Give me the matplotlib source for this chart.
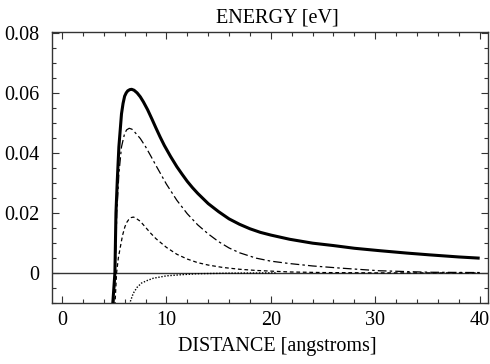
import matplotlib
matplotlib.use("Agg")
import matplotlib.pyplot as plt
from matplotlib.ticker import MultipleLocator, FuncFormatter

plt.rcParams['font.family'] = ['Liberation Serif', 'DejaVu Serif']

# total energy (thick solid)
total_x = [4.85, 5.07, 5.17, 5.3, 5.45, 5.7, 5.85, 6.0, 6.15, 6.3, 6.5, 6.67, 6.9,
           7.2, 7.5, 7.8, 8.2, 8.6, 9.0, 9.4, 9.8, 10.4, 11.0, 11.5, 12.0, 12.5,
           13.0, 14.0, 15.0, 16.0, 17.0, 18.0, 19.0, 20.0, 21.8, 24.0, 26.0, 28.0,
           30.4, 33.0, 35.2, 38.0, 40.0]
total_y = [-0.011, 0.0, 0.02, 0.031, 0.042, 0.053, 0.0565, 0.0589, 0.0600, 0.0607,
           0.0611, 0.0612, 0.0609, 0.0600, 0.0587, 0.0570, 0.0544, 0.0514, 0.0483,
           0.0453, 0.0425, 0.0388, 0.0354, 0.0329, 0.0305, 0.0284, 0.0265, 0.0231,
           0.0204, 0.0180, 0.0162, 0.0147, 0.0135, 0.0126, 0.0112, 0.0099, 0.0091,
           0.0082, 0.0074, 0.0066, 0.0060, 0.0053, 0.0049]

# long dash-dot component
dashdot_x = [4.95, 5.1, 5.25, 5.45, 5.7, 6.0, 6.2, 6.44, 6.7, 7.0, 7.5, 8.0, 8.5,
             9.0, 10.0, 11.0, 12.0, 13.0, 14.0, 15.0, 16.0, 17.0, 18.6, 20.0, 21.8,
             24.0, 26.6, 30.4, 35.2, 40.0]
dashdot_y = [-0.011, 0.0, 0.02, 0.033, 0.042, 0.0465, 0.0477, 0.0482, 0.0479,
             0.0468, 0.0448, 0.0421, 0.0390, 0.0358, 0.0296, 0.0242, 0.0197, 0.0160,
             0.0130, 0.0104, 0.0083, 0.0067, 0.0049, 0.0039, 0.0031, 0.0023, 0.0016,
             0.0007, 0.0002, 0.0001]

# short dash component
dashed_x = [5.07, 5.23, 5.4, 5.6, 5.8, 6.03, 6.2, 6.4, 6.6, 6.83, 7.0, 7.5, 8.0,
            8.5, 9.0, 10.0, 11.0, 12.0, 13.0, 14.0, 15.4, 17.0, 18.6, 21.8, 25.0,
            30.0, 40.0]
dashed_y = [-0.011, 0.0, 0.005, 0.0088, 0.0125, 0.0154, 0.0168, 0.0178, 0.0184,
            0.0186, 0.0184, 0.0172, 0.0152, 0.0132, 0.0114, 0.0085, 0.0062, 0.0046,
            0.0034, 0.0026, 0.0018, 0.0012, 0.0008, 0.0003, 0.0001, 0.0, 0.0]

# dotted (attractive) component
dotted_x = [6.45, 6.83, 7.2, 7.62, 8.2, 8.74, 10.0, 11.5, 12.9, 16.0, 20.5]
dotted_y = [-0.0105, -0.0068, -0.0048, -0.0034, -0.0025, -0.0018, -0.001, -0.0006,
            -0.0003, -0.0001, 0.0]

fig = plt.figure(figsize=(4.9, 3.64), dpi=100)
ax = fig.add_axes([0.106, 0.168, 0.890, 0.744])

ax.axhline(0, color='#333333', lw=1.0, zorder=1)
ax.plot(total_x, total_y, color='black', lw=2.2, solid_capstyle='butt', zorder=4)
ax.plot(dashdot_x, dashdot_y, color='black', lw=0.9, dashes=(7, 2.5, 2, 2.5), zorder=3)
ax.plot(dashed_x, dashed_y, color='black', lw=0.9, dashes=(3, 2.2), zorder=3)
ax.plot(dotted_x, dotted_y, color='black', lw=1.0, dashes=(1, 1.2), zorder=3)

ax.set_xlim(-0.96, 40.8)
ax.set_ylim(-0.01, 0.0803)

ax.xaxis.set_major_locator(MultipleLocator(10))
ax.xaxis.set_minor_locator(MultipleLocator(2))
ax.yaxis.set_major_locator(MultipleLocator(0.02))
ax.yaxis.set_minor_locator(MultipleLocator(0.005))
ax.yaxis.set_major_formatter(FuncFormatter(lambda v, p: '0' if abs(v) < 1e-9 else f'{v:.2f}'))
ax.xaxis.set_major_formatter(FuncFormatter(lambda v, p: f'{v:.0f}'))

ax.tick_params(which='both', direction='in', top=True, right=True, color='#333333',
               width=0.8, labelsize=14.5)
ax.tick_params(which='major', length=5)
ax.tick_params(which='minor', length=3)
ax.tick_params(axis='y', pad=9)
ax.tick_params(axis='x', pad=6)
for s in ax.spines.values():
    s.set_color('#333333')
    s.set_linewidth(1.0)

ax.set_title('ENERGY [eV]', fontsize=14.5, pad=7, x=0.516)
ax.set_xlabel('DISTANCE [angstroms]', fontsize=14.5, labelpad=5, x=0.516)

fig.savefig('out.png', dpi=100)
